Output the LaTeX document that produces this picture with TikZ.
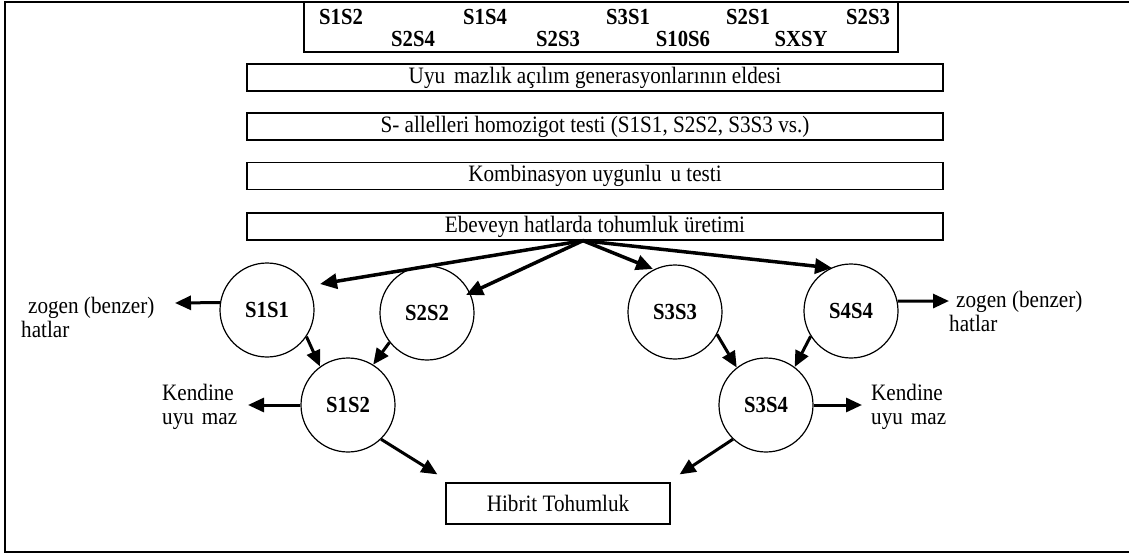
\documentclass[tikz,border=0pt]{standalone}
\usepackage{fontspec}
\setmainfont{Liberation Serif}[FakeStretch=0.9]
\usetikzlibrary{arrows.meta,calc}
\begin{document}
\begin{tikzpicture}[x=1pt,y=-1pt,
  every node/.style={inner sep=0pt, font=\fontsize{23.5}{24}\selectfont},
  stagebox/.style={draw, line width=1.3pt, minimum width=696pt, minimum height=27pt},
  allele/.style={circle, draw, line width=1.2pt, minimum size=94pt, font=\fontsize{23}{24}\selectfont\bfseries},
  toplabel/.style={anchor=base, font=\fontsize{23}{24}\selectfont\bfseries},
  fanarrow/.style={line width=3.5pt, -{Triangle[length=17pt,width=15pt]}},
  thickarrow/.style={line width=3pt, -{Triangle[length=16pt,width=14pt]}},
  sidetext/.style={anchor=north west, align=left}
]
\useasboundingbox (0,0) rectangle (1129,556);
\fill[white] (0,0) rectangle (1129,556);
\draw[line width=1.6pt] (1140,2) -- (5,2) -- (5,552) -- (1140,552);

% allele list box
\node[draw, line width=1.4pt, minimum width=594pt, minimum height=50pt] (alleles) at (601,27) {};
\node[toplabel] (t1) at (341,25) {S1S2};
\node[toplabel] (t2) at (485,25) {S1S4};
\node[toplabel] (t3) at (628,25) {S3S1};
\node[toplabel] (t4) at (748,25) {S2S1};
\node[toplabel] (t5) at (868,25) {S2S3};
\node[toplabel] (t6) at (413,47) {S2S4};
\node[toplabel] (t7) at (558,47) {S2S3};
\node[toplabel] (t8) at (683,47) {S10S6};
\node[toplabel] (t9) at (801,47) {SXSY};

% stage boxes
\node[stagebox] (b1) at (595,77.5) {Uyu\hspace{9pt}mazlık açılım generasyonlarının eldesi};
\node[stagebox] (b2) at (595,126.5) {S- allelleri homozigot testi (S1S1, S2S2, S3S3 vs.)};
\node[stagebox] (b3) at (595,176) {Kombinasyon uygunlu\hspace{9pt}u testi};
\node[stagebox] (b4) at (595,226.5) {Ebeveyn hatlarda tohumluk üretimi};

% circles
\node[allele] (s11) at (267,310) {S1S1};
\node[allele] (s22) at (427,313) {S2S2};
\node[allele] (s12) at (348,405) {S1S2};
\node[allele] (s33) at (675,312) {S3S3};
\node[allele] (s44) at (851,311) {S4S4};
\node[allele] (s34) at (766,405) {S3S4};

\node[draw, line width=1.2pt, minimum width=224pt, minimum height=41pt] (hib) at (558,503.5) {Hibrit Tohumluk};

% side texts
\node[sidetext] (izl) at (21,297) {\hspace*{7pt}zogen (benzer)\\hatlar};
\node[sidetext] (kl) at (162,384) {Kendine\\uyu\hspace{8pt}maz};
\node[sidetext] (izr) at (949,291) {\hspace*{7pt}zogen (benzer)\\hatlar};
\node[sidetext] (kr) at (871,384) {Kendine\\uyu\hspace{8pt}maz};

% fan arrows
\coordinate (fan) at ($(b4.south)+(-12,0)$);
\draw[fanarrow] (fan) -- ($(s11)+(53,-26)$);
\draw[fanarrow] (fan) -- ($(s22)+(39,-18)$);
\draw[fanarrow] (fan) -- ($(s33)+(-22,-43)$);
\draw[fanarrow] (fan) -- ($(s44)+(-19,-43)$);

% crosses
\draw[thickarrow] (s11.-34) -- (s12.126);
\draw[thickarrow] (s22.218) -- (s12.58);
\draw[thickarrow] (s33.-28) -- (s34.128);
\draw[thickarrow] (s44.212) -- (s34.53);
\draw[thickarrow] (s12.-46) -- ($(hib.north west)+(-8,-8)$);
\draw[thickarrow] (s34.226) -- ($(hib.north east)+(9,-8)$);

% side arrows
\coordinate (izlend) at (175,303);
\coordinate (klend) at (248,405);
\coordinate (izrend) at (949,301);
\coordinate (krend) at (862,405);
\draw[thickarrow] (s11.171) -- (izlend);
\draw[thickarrow] (s12.west) -- (klend);
\draw[thickarrow] (s44.12) -- (izrend);
\draw[thickarrow] (s34.east) -- (krend);
\end{tikzpicture}
\end{document}
